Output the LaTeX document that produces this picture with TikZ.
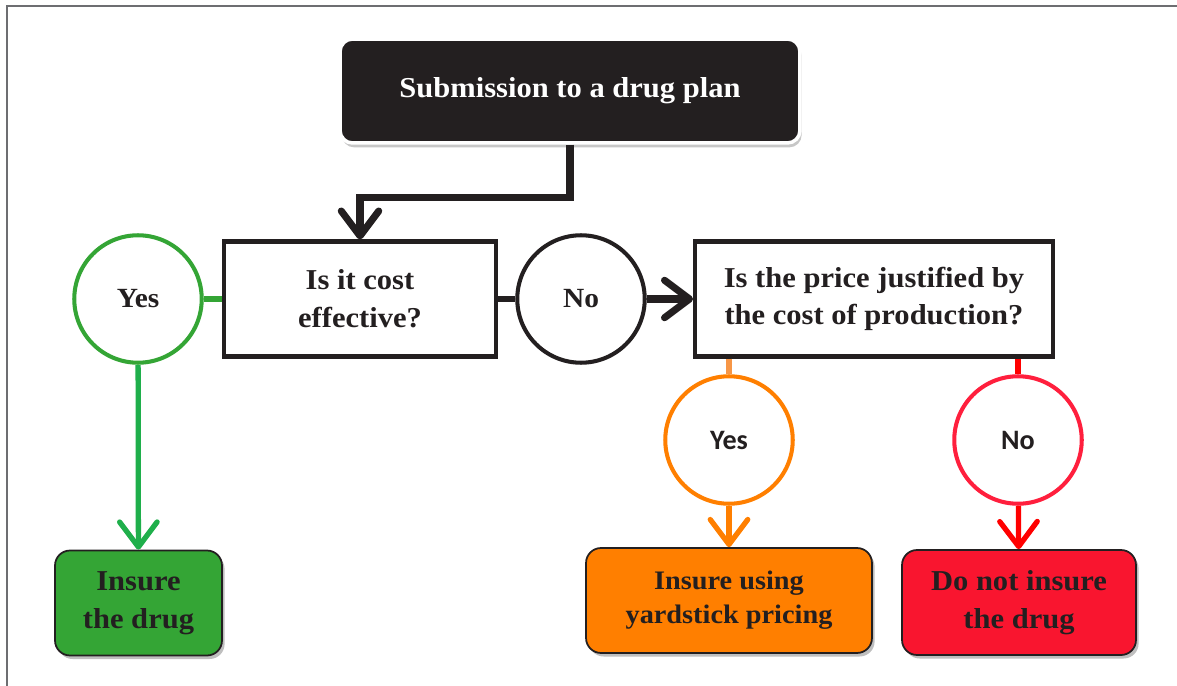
\documentclass[tikz,border=0pt]{standalone}
\usepackage{fontspec}
\setmainfont{Liberation Serif}[FakeStretch=1.06]
\newfontfamily\calfont{Carlito}
\usepackage{tikz}
\usetikzlibrary{arrows.meta}
\usetikzlibrary{shadows}

\definecolor{ink}{HTML}{231F20}
\definecolor{frameline}{HTML}{6D6E71}
\definecolor{okgreen}{HTML}{34A535}
\definecolor{okline}{HTML}{1FAF4B}
\definecolor{yardorange}{HTML}{FF7F00}
\definecolor{paleorange}{HTML}{F79646}
\definecolor{stopred}{HTML}{F9152F}
\definecolor{stopline}{HTML}{FF1F3D}

\tikzset{
  txt/.style={font=\fontsize{16.4}{21.5}\selectfont\bfseries, text=ink, align=center},
  question/.style={txt, draw=ink, line width=2.3pt, fill=white, inner sep=0pt,
    minimum height=2.3cm},
  answer/.style={circle, draw, line width=2.3pt, fill=white, minimum size=2.55cm,
    inner sep=0pt, text=ink},
  outcome/.style={txt, draw=ink, line width=1pt, rounded corners=0.3cm, inner sep=0pt,
    minimum height=2.1cm,
    drop shadow={shadow xshift=1.5pt, shadow yshift=-2pt, fill=black!25, opacity=1}},
  flow/.style={line width=#1, -{Straight Barb[length=5mm,width=7.5mm,round]}},
  flow/.default=4pt,
}

\begin{document}
\begin{tikzpicture}[x=0.02cm, y=-0.02cm]
\useasboundingbox (0,0) rectangle (1177,686);
% frame
\draw[frameline, line width=0.8pt] (7,686) -- (7,6) -- (1177,6);

% boxes
\node[txt, text=white, fill=ink, draw=white, line width=2pt, rounded corners=0.25cm,
  minimum width=9.2cm, minimum height=2.08cm,
  drop shadow={shadow xshift=1pt, shadow yshift=-2.5pt, fill=black!22, opacity=1}]
  (start) at (570,91) {Submission to a drug plan};
\node[question, minimum width=5.46cm] (q1) at (360,299) {Is it cost\\effective?};
\node[question, minimum width=7.16cm] (q2) at (874,299)
  {Is the price justified by\\the cost of production?};

% answers
\node[answer, draw=okgreen, font=\fontsize{15.8}{18}\selectfont\bfseries] (yes1) at (138,299) {Yes};
\node[answer, draw=ink, font=\fontsize{15.8}{18}\selectfont\bfseries] (no1) at (581,299) {No};
\node[answer, draw=yardorange, font=\calfont\fontsize{16}{18}\selectfont\bfseries] (yes2) at (729,440) {Yes};
\node[answer, draw=stopline, font=\calfont\fontsize{16}{18}\selectfont\bfseries] (no2) at (1018,440) {No};

% outcomes
\node[outcome, fill=okgreen, minimum width=3.34cm] (out1) at (138.5,603) {Insure\\the drug};
\node[outcome, fill=yardorange, minimum width=5.72cm,
  font=\fontsize{15.2}{19.5}\selectfont\bfseries] (out2) at (729,600.5)
  {Insure using\\yardstick pricing};
\node[outcome, fill=stopred, minimum width=4.68cm] (out3) at (1019,602.5)
  {Do not insure\\the drug};

% connectors
\draw[ink, flow] (start.south) -- ++(0,53) -| (q1.north);
\draw[okgreen, line width=3.5pt] (yes1) -- (q1);
\draw[okline, flow=3pt] (yes1) -- (out1);
\draw[ink, line width=3.5pt] (q1) -- (no1);
\draw[ink, flow] (no1) -- (q2);
\draw[paleorange, line width=3.5pt] (q2.south -| yes2) -- (yes2);
\draw[yardorange, flow=3pt] (yes2) -- (out2);
\draw[red, line width=3.5pt] (q2.south -| no2) -- (no2);
\draw[red, flow=3pt] (no2) -- (out3);
\end{tikzpicture}
\end{document}
